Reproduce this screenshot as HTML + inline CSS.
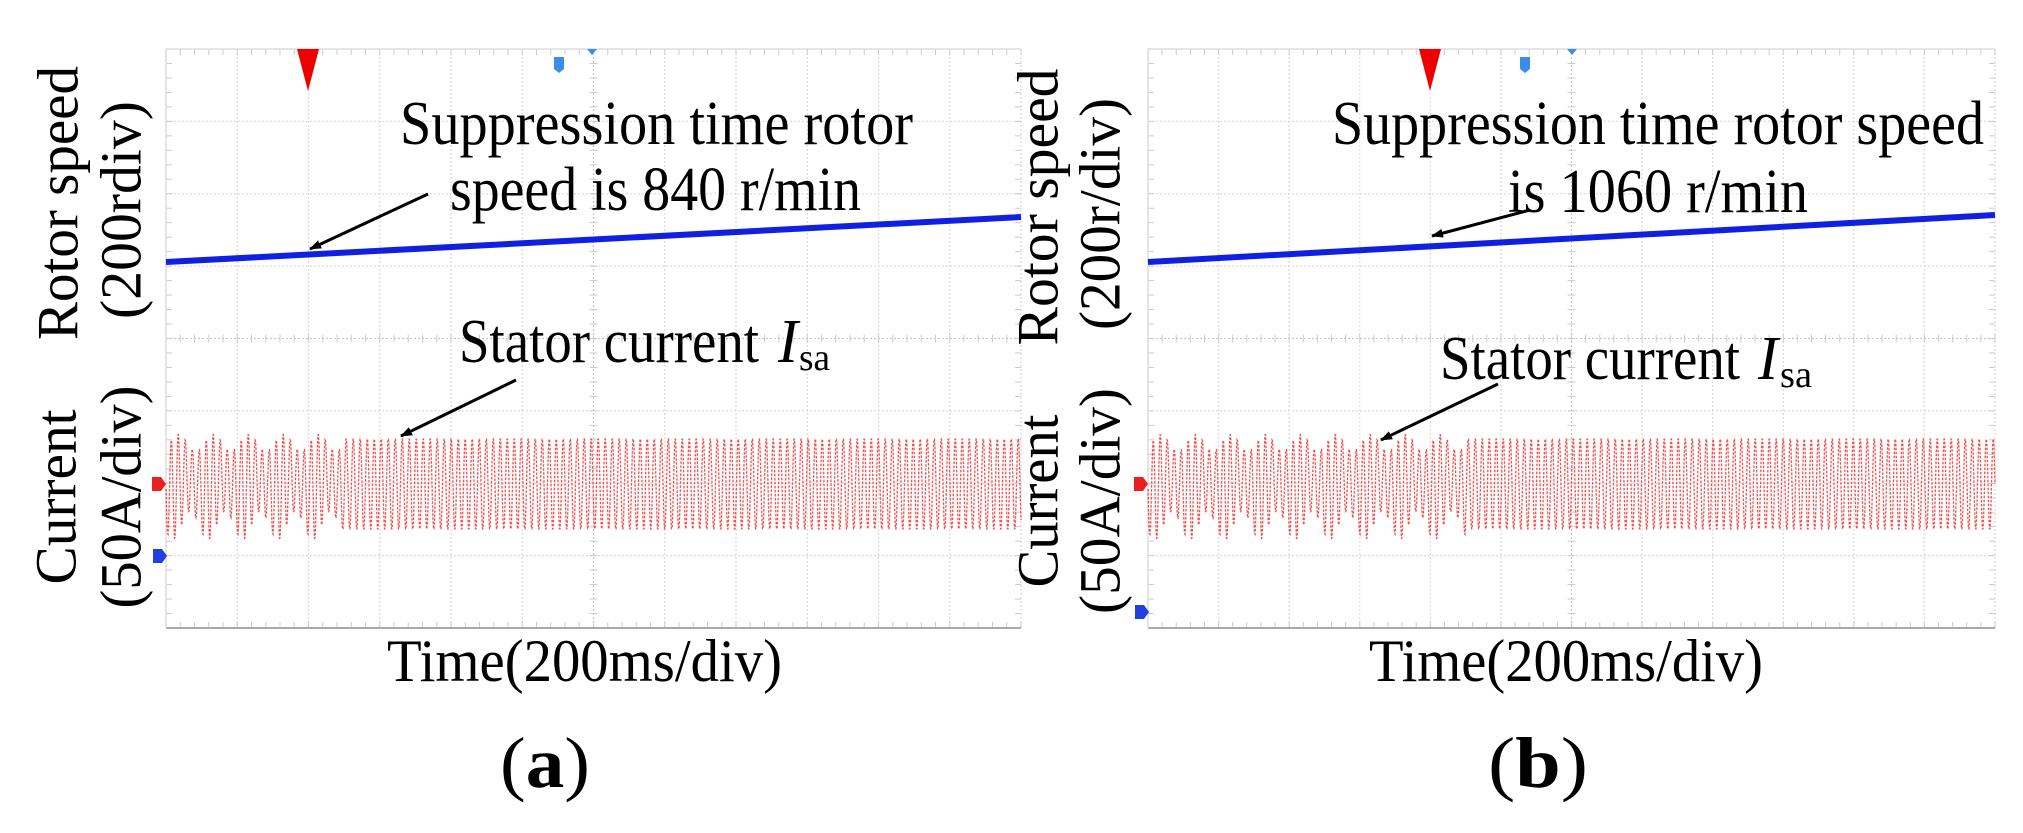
<!DOCTYPE html>
<html><head><meta charset="utf-8"><style>
html,body{margin:0;padding:0;background:#fff;}
svg{display:block;}
text{font-family:"Liberation Serif",serif;fill:#000;}
</style></head><body>
<svg id="s" width="2023" height="833" viewBox="0 0 2023 833" xmlns="http://www.w3.org/2000/svg">
<defs>
<marker id="ah" markerWidth="12" markerHeight="9" refX="11" refY="4.5" orient="auto" markerUnits="userSpaceOnUse">
<path d="M0,0 L12,4.5 L0,9 z" fill="#000"/></marker>
</defs>
<g id="g"></g>

<!-- Panel a texts -->
<text x="58" y="203" font-size="58" transform="rotate(-90 58 203)" text-anchor="middle" dominant-baseline="central" textLength="274" lengthAdjust="spacingAndGlyphs">Rotor speed</text>
<text x="121" y="210" font-size="58" transform="rotate(-90 121 210)" text-anchor="middle" dominant-baseline="central" textLength="218" lengthAdjust="spacingAndGlyphs">(200rdiv)</text>
<text x="56" y="497" font-size="58" transform="rotate(-90 56 497)" text-anchor="middle" dominant-baseline="central" textLength="175" lengthAdjust="spacingAndGlyphs">Current</text>
<text x="121" y="497" font-size="58" transform="rotate(-90 121 497)" text-anchor="middle" dominant-baseline="central" textLength="223" lengthAdjust="spacingAndGlyphs">(50A/div)</text>
<text x="400" y="144" font-size="62" textLength="513" lengthAdjust="spacingAndGlyphs">Suppression time rotor</text>
<text x="450" y="210" font-size="62" textLength="411" lengthAdjust="spacingAndGlyphs">speed is 840 r/min</text>
<text x="459" y="362" font-size="62" textLength="300" lengthAdjust="spacingAndGlyphs">Stator current</text>
<text x="778" y="362" font-size="62" font-style="italic" textLength="20" lengthAdjust="spacingAndGlyphs">I</text>
<text x="799" y="370" font-size="38" textLength="31" lengthAdjust="spacingAndGlyphs">sa</text>
<text x="387" y="681" font-size="60" textLength="395" lengthAdjust="spacingAndGlyphs">Time(200ms/div)</text>
<text x="500" y="787" font-size="72" textLength="90" lengthAdjust="spacingAndGlyphs">(<tspan font-weight="bold">a</tspan>)</text>

<!-- Panel b texts -->
<text x="1038" y="207" font-size="58" transform="rotate(-90 1038 207)" text-anchor="middle" dominant-baseline="central" textLength="277" lengthAdjust="spacingAndGlyphs">Rotor speed</text>
<text x="1100" y="214" font-size="58" transform="rotate(-90 1100 214)" text-anchor="middle" dominant-baseline="central" textLength="232" lengthAdjust="spacingAndGlyphs">(200r/div)</text>
<text x="1038" y="501" font-size="58" transform="rotate(-90 1038 501)" text-anchor="middle" dominant-baseline="central" textLength="173" lengthAdjust="spacingAndGlyphs">Current</text>
<text x="1100" y="501" font-size="58" transform="rotate(-90 1100 501)" text-anchor="middle" dominant-baseline="central" textLength="226" lengthAdjust="spacingAndGlyphs">(50A/div)</text>
<text x="1332" y="144" font-size="62" textLength="652" lengthAdjust="spacingAndGlyphs">Suppression time rotor speed</text>
<text x="1508" y="212" font-size="62" textLength="300" lengthAdjust="spacingAndGlyphs">is 1060 r/min</text>
<text x="1440" y="379" font-size="62" textLength="300" lengthAdjust="spacingAndGlyphs">Stator current</text>
<text x="1758" y="379" font-size="62" font-style="italic" textLength="20" lengthAdjust="spacingAndGlyphs">I</text>
<text x="1780" y="387" font-size="38" textLength="32" lengthAdjust="spacingAndGlyphs">sa</text>
<text x="1369" y="681" font-size="60" textLength="394" lengthAdjust="spacingAndGlyphs">Time(200ms/div)</text>
<text x="1488" y="787" font-size="72" textLength="100" lengthAdjust="spacingAndGlyphs">(<tspan font-weight="bold">b</tspan>)</text>

<!-- arrows -->
<g stroke="#000" stroke-width="3" fill="none" marker-end="url(#ah)">
<line x1="428" y1="194" x2="310" y2="249"/>
<line x1="516" y1="380" x2="401" y2="436"/>
<line x1="1530" y1="210" x2="1432" y2="236"/>
<line x1="1498" y1="384" x2="1381" y2="440"/>
</g>
</svg>
<script>
(function(){
var g=document.getElementById('g'),NS='http://www.w3.org/2000/svg';
function el(n,a){var e=document.createElementNS(NS,n);for(var k in a)e.setAttribute(k,a[k]);g.appendChild(e);return e;}
function panel(x0,x1,y0,y1,trans,ya,yb,trig,tmk,smk,blueY){
  var w=x1-x0,h=y1-y0,dx=w/12,dy=h/8;
  for(var i=0;i<=12;i++){var x=x0+i*dx;el('line',{x1:x,y1:y0,x2:x,y2:y1,stroke:i==6?'#c8c8c8':'#dcdcdc','stroke-width':1.3,'stroke-dasharray':'2 2'});}
  for(var j=0;j<=8;j++){var y=y0+j*dy;el('line',{x1:x0,y1:y,x2:x1,y2:y,stroke:j==4?'#c8c8c8':'#dcdcdc','stroke-width':1.3,'stroke-dasharray':'2 2'});}
  var cx=x0+6*dx,cy=y0+4*dy;
  for(var t=x0;t<=x1;t+=dx/5){el('line',{x1:t,y1:cy-4,x2:t,y2:cy+4,stroke:'#ccc','stroke-width':1});el('line',{x1:t,y1:y0,x2:t,y2:y0+6,stroke:'#ccc','stroke-width':1});el('line',{x1:t,y1:y1-6,x2:t,y2:y1,stroke:'#ccc','stroke-width':1});}
  for(var t=y0;t<=y1;t+=dy/5){el('line',{x1:cx-4,y1:t,x2:cx+4,y2:t,stroke:'#ccc','stroke-width':1});el('line',{x1:x0,y1:t,x2:x0+6,y2:t,stroke:'#ccc','stroke-width':1});el('line',{x1:x1-6,y1:t,x2:x1,y2:t,stroke:'#ccc','stroke-width':1});}
  el('line',{x1:x0,y1:y1,x2:x1,y2:y1,stroke:'#aaa','stroke-width':2});
  el('line',{x1:x0,y1:y0,x2:x1,y2:y0,stroke:'#ddd','stroke-width':1.5});
  el('line',{x1:x0,y1:y0,x2:x0,y2:y1,stroke:'#ddd','stroke-width':1.5});
  var d='',yc=484;
  for(var x=x0;x<=x1;x+=0.5){
    var A;
    if(x<trans){A=42+10*Math.sin((x-x0)/35*2*Math.PI);}else{A=46;}
    var y=yc+A*Math.sin((x-x0)/7*2*Math.PI)+ (x<trans?6*Math.sin((x-x0)/35*2*Math.PI+1):0);
    d+=(x==x0?'M':'L')+x.toFixed(1)+','+y.toFixed(1);
  }
  el('path',{d:d,stroke:'#f03030','stroke-width':1.3,fill:'none','stroke-dasharray':'2.5 1.5',opacity:0.85});
  el('line',{x1:x0,y1:ya,x2:x1,y2:yb,stroke:'#1020e0','stroke-width':6});
  el('path',{d:'M'+(trig-11)+','+y0+' L'+(trig+11)+','+y0+' L'+trig+','+(y0+42)+' z',fill:'#ee0000'});
  el('path',{d:'M'+(tmk-5)+','+(y0+8)+' h10 v12 l-5,4 l-5,-4 z',fill:'#3a8ee8'});
  el('path',{d:'M'+(smk-5)+','+(y0)+' h10 l-5,6 z',fill:'#3a8ee8'});
  el('path',{d:'M'+(x0-14)+','+(yc-7)+' h9 l5,7 l-5,7 h-9 z',fill:'#e82020'});
  el('path',{d:'M'+(x0-13)+','+(blueY-7)+' h9 l5,7 l-5,7 h-9 z',fill:'#2040e0'});
}
panel(166,1021,49,628,342,262,217,308,559,592,556);
panel(1148,1995,49,628,1466,262,215,1430,1525,1572,612);
})();
</script>
</body></html>
